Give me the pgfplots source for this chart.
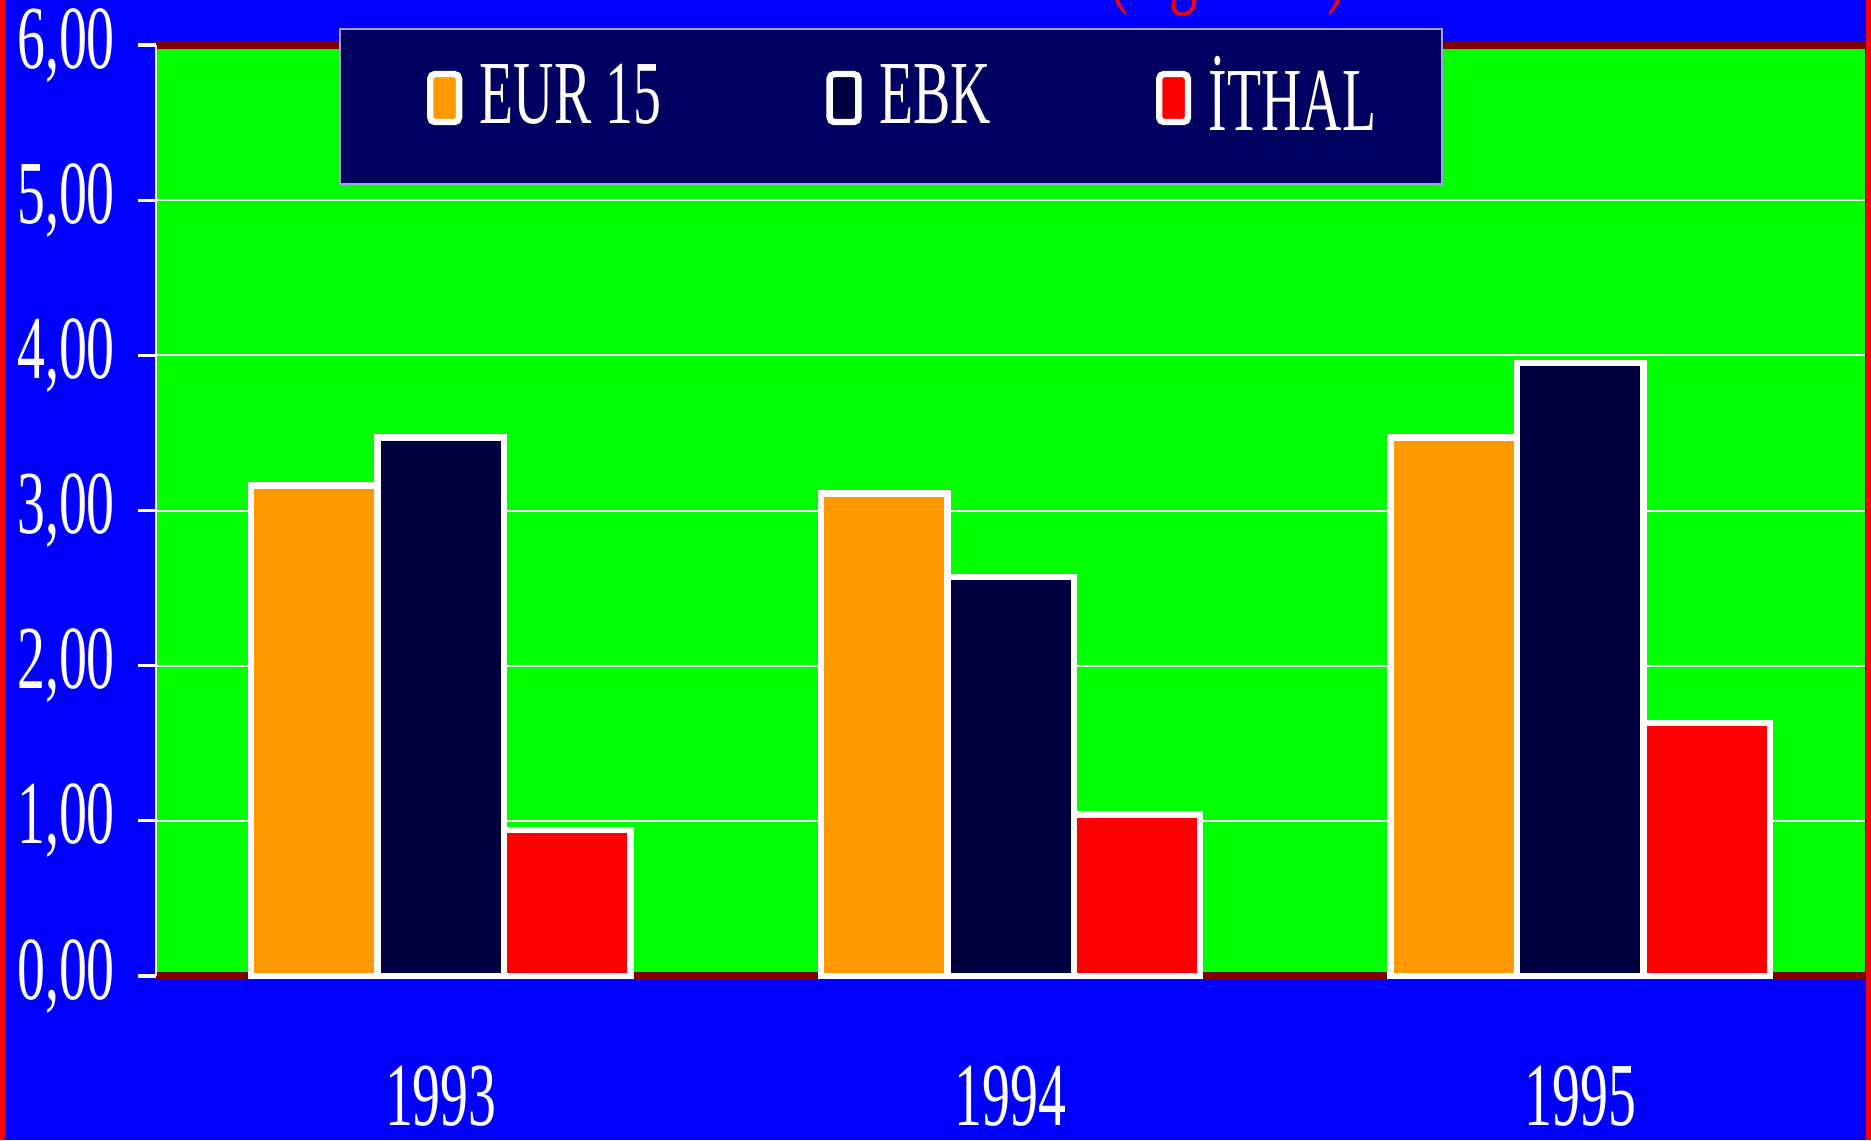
\documentclass[border=0pt]{standalone}
\usepackage{fontspec}
\setmainfont{Liberation Serif}[FakeStretch=0.62]
\usepackage{pgfplots}
\pgfplotsset{compat=1.18}

\definecolor{bgblue}{HTML}{0000FF}
\definecolor{plotgreen}{HTML}{00FF00}
\definecolor{barorange}{HTML}{FF9900}
\definecolor{barnavy}{HTML}{000040}
\definecolor{barred}{HTML}{FF0000}
\definecolor{legnavy}{HTML}{000060}
\definecolor{legborder}{HTML}{A0A0DC}
\definecolor{darkred}{HTML}{800000}

\begin{document}
\begin{tikzpicture}
\fill[bgblue] (0,0) rectangle (467.75pt,285pt);
% title, cut by the top edge of the page
\node[overlay, red, anchor=base, font=\fontsize{23}{25}\selectfont] at (307pt,285.8pt) {(Kg/ECU)};
\begin{axis}[
  at={(39pt,41pt)}, anchor=south west,
  scale only axis, width=427.25pt, height=232.75pt,
  axis background/.style={fill=plotgreen},
  axis line style={draw=none},
  clip=false,
  ybar=0pt, bar width=31.6pt,
  xmin=-0.5, xmax=2.5, ymin=0, ymax=6,
  xtick={0,1,2}, xticklabels={1993,1994,1995},
  xtick pos=bottom, ytick pos=left,
  x tick style={draw=none},
  extra x ticks={-0.5,0.5,1.5},
  extra x tick labels={},
  extra x tick style={major tick length=11.4pt, tick align=center,
    tick style={white, line width=0.5pt}, xmajorgrids=false},
  ytick={0,1,...,6},
  ymajorgrids, grid style={white, line width=0.5pt},
  y tick style={white, line width=0.8pt}, tick align=outside,
  major tick length=4.5pt,
  yticklabel style={anchor=center, xshift=-18pt, text=white,
    font=\fontsize{22.5}{24}\selectfont,
    /pgf/number format/.cd, fixed, fixed zerofill, precision=2, use comma, assume math mode=true},
  xticklabel style={anchor=center, yshift=-25.5pt, text=white,
    font=\fontsize{22.5}{24}\selectfont},
  legend columns=3,
  legend style={at={(0.107,1.0186)}, anchor=north west, fill=legnavy,
    draw=legborder, line width=0.5pt, text=white,
    font=\fontsize{22.5}{24}\selectfont,
    inner xsep=14.5pt, inner ysep=5pt,
    nodes={text depth=6.3pt},
    /tikz/every odd column/.append style={column sep=2.4pt},
    /tikz/every even column/.append style={column sep=32pt}},
  legend image code/.code={\path (0pt,0pt);
    \draw[#1, draw=white, line width=1.6pt, rounded corners=1.2pt] (7.3pt,-3.9pt) rectangle (14.5pt,8.1pt);},
]
\draw[darkred, line width=1.8pt] (rel axis cs:0,1) -- (rel axis cs:1,1);
\draw[darkred, line width=1.8pt] (rel axis cs:0,0) -- (rel axis cs:1,0);
\draw[white!70!pink, line width=0.6pt] (rel axis cs:0,0) -- (rel axis cs:0,1);
\addplot[fill=barorange, draw=white, line width=1.6pt] coordinates {(0,3.16) (1,3.11) (2,3.47)};
\addlegendentry{EUR 15}
\addplot[fill=barnavy, draw=white, line width=1.6pt] coordinates {(0,3.47) (1,2.57) (2,3.95)};
\addlegendentry{EBK}
\addplot[fill=barred, draw=white, line width=1.6pt] coordinates {(0,0.94) (1,1.04) (2,1.63)};
\addlegendentry{İTHAL}
\end{axis}
\fill[red] (0,0) rectangle (1.3pt,285pt);
\fill[red] (466.45pt,0) rectangle (467.75pt,285pt);
\pgfresetboundingbox
\useasboundingbox (0,0) rectangle (467.75pt,285pt);
\end{tikzpicture}
\end{document}
